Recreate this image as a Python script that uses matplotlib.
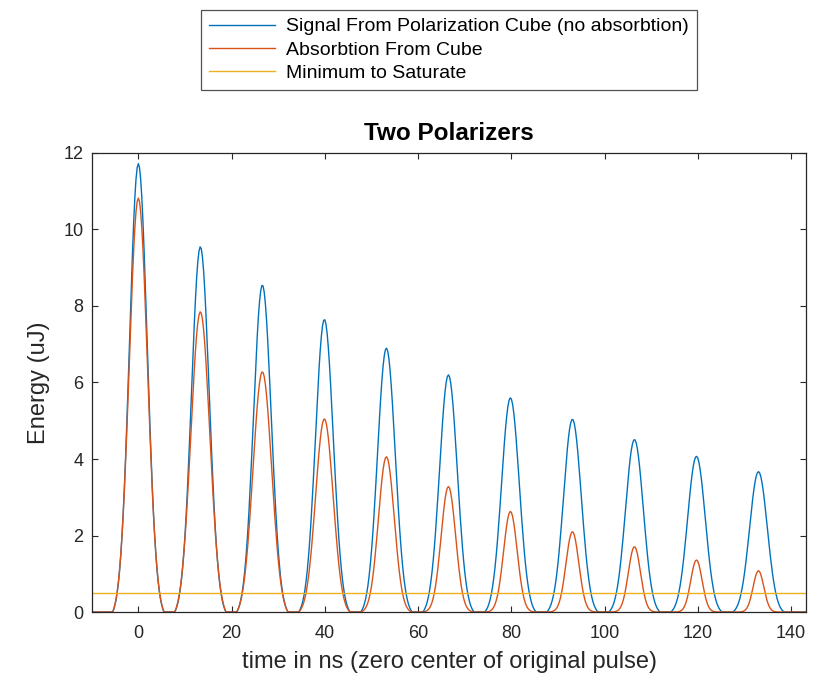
import numpy as np
import matplotlib
matplotlib.use("Agg")
import matplotlib.pyplot as plt

plt.rcParams['font.family'] = ['Liberation Sans', 'DejaVu Sans']

# ---- data ----
pulse_centers = [0.0, 13.3, 26.6, 39.9, 53.2, 66.5, 79.8, 93.1, 106.4, 119.7, 133.0]
signal_peaks = [11.72, 9.55, 8.55, 7.65, 6.9, 6.2, 5.6, 5.04, 4.51, 4.07, 3.67]
signal_widths = [1.9, 1.9, 1.9, 1.9, 1.9, 1.9, 1.9, 1.9, 1.9, 1.9, 1.9]
absorb_peaks = [10.82, 7.85, 6.28, 5.05, 4.06, 3.28, 2.63, 2.10, 1.71, 1.36, 1.08]
absorb_widths = [1.95, 2.02, 2.0, 1.88, 1.7, 1.56, 1.46, 1.38, 1.3, 1.22, 1.15]
pulse_halfwindow = 5.5
saturate_level = 0.5
time_range = [-10.0, 143.3]

legend_labels = ["Signal From Polarization Cube (no absorbtion)",
                 "Absorbtion From Cube",
                 "Minimum to Saturate"]
title_text = "Two Polarizers"
xlabel_text = "time in ns (zero center of original pulse)"
ylabel_text = "Energy (uJ)"
xticks = [0, 20, 40, 60, 80, 100, 120, 140]
yticks = [0, 2, 4, 6, 8, 10, 12]

# ---- build pulse trains (truncated gaussian pulses) ----
t = np.arange(time_range[0], time_range[1] + 1e-9, 0.25)


def pulse(tt, c, a, s, w):
    e_c = np.exp(-0.5 * (w / s) ** 2)
    g = (np.exp(-0.5 * ((tt - c) / s) ** 2) - e_c) / (1 - e_c)
    return a * np.clip(g, 0, None)


signal = np.zeros_like(t)
absorb = np.zeros_like(t)
for c, a, s in zip(pulse_centers, signal_peaks, signal_widths):
    signal += pulse(t, c, a, s, pulse_halfwindow)
for c, a, s in zip(pulse_centers, absorb_peaks, absorb_widths):
    absorb += pulse(t, c, a, s, pulse_halfwindow)

blue = '#0072BD'
orange = '#D95319'
yellow = '#EDB120'
axcol = '#262626'

fig = plt.figure(figsize=(8.36, 6.82), dpi=100)
ax = fig.add_axes([0.1097, 0.1026, 0.855, 0.6731])

l1, = ax.plot(t, signal, color=blue, lw=1.0)
l2, = ax.plot(t, absorb, color=orange, lw=1.0)
l3, = ax.plot(time_range, [saturate_level, saturate_level], color=yellow, lw=1.0)

ax.set_xlim(time_range)
ax.set_ylim(0, 12)
ax.set_xticks(xticks)
ax.set_yticks(yticks)
ax.tick_params(direction='in', top=True, right=True, length=4.5, width=0.8,
               colors=axcol, labelsize=13, pad=6)
ax.tick_params(axis='x', pad=9)
for sp in ax.spines.values():
    sp.set_color(axcol)
    sp.set_linewidth(0.9)

ax.set_title(title_text, fontsize=17.5, fontweight='bold', color='black', pad=9)
ax.set_xlabel(xlabel_text, fontsize=17, color=axcol)
ax.set_ylabel(ylabel_text, fontsize=17, color=axcol)
ax.xaxis.set_label_coords(0.5, -0.085)
ax.yaxis.set_label_coords(-0.058, 0.5)

leg = fig.legend([l1, l2, l3], legend_labels, loc='center',
                 bbox_to_anchor=(0.537, 0.9267), fontsize=14,
                 frameon=True, fancybox=False, shadow=False,
                 handlelength=3.4, handletextpad=0.55, labelspacing=0.3,
                 borderpad=0.42, borderaxespad=0)
leg.get_frame().set_edgecolor(axcol)
leg.get_frame().set_linewidth(0.9)

fig.savefig('out.png', dpi=100, facecolor='white')
